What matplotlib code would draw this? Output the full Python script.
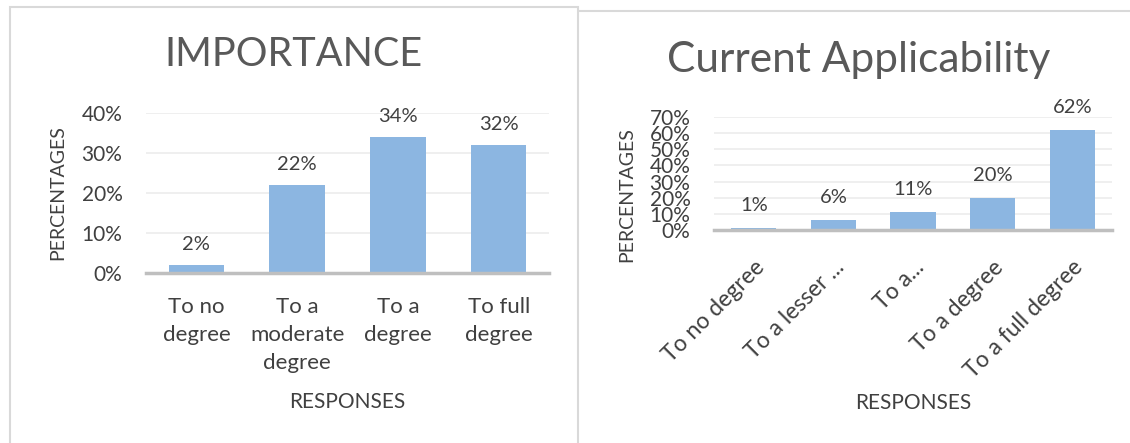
import matplotlib.pyplot as plt
from matplotlib.patches import Rectangle
from matplotlib.lines import Line2D
from matplotlib.ticker import PercentFormatter

plt.rcParams['font.family'] = ['Lato', 'DejaVu Sans']

# Importance chart data
imp_labels = ['To no\ndegree', 'To a\nmoderate\ndegree', 'To a\ndegree', 'To full\ndegree']
imp_values = [2, 22, 34, 32]
imp_ticks = [0, 10, 20, 30, 40]

# Current applicability chart data
app_labels = ['To no degree', 'To a lesser ...', 'To a...', 'To a degree', 'To a full degree']
app_values = [1, 6, 11, 20, 62]
app_ticks = [0, 10, 20, 30, 40, 50, 60, 70]

BAR = '#8cb6e1'
TXT = '#404040'
GRID = '#ececec'
AXIS = '#bfbfbf'

fig = plt.figure(figsize=(11.3, 4.43), dpi=100)

# frame around left chart, line above the right one
fig.patches.append(Rectangle((10 / 1130, -0.05), 568 / 1130, 1.05 - 7 / 443,
                             transform=fig.transFigure, fill=False,
                             edgecolor='#d9d9d9', linewidth=1.5))
fig.lines.append(Line2D([580 / 1130, 1], [1 - 11 / 443, 1 - 11 / 443],
                        transform=fig.transFigure, color='#d9d9d9', linewidth=1.5))


def style_axes(ax, ticks):
    ax.set_yticks(ticks)
    ax.set_ylim(ticks[0], ticks[-1])
    ax.yaxis.set_major_formatter(PercentFormatter(decimals=0))
    ax.grid(axis='y', color=GRID, linewidth=1.2)
    ax.set_axisbelow(True)
    for s in ['top', 'right', 'left']:
        ax.spines[s].set_visible(False)
    ax.spines['bottom'].set_color(AXIS)
    ax.spines['bottom'].set_linewidth(2.5)
    ax.tick_params(length=0, labelsize=16, labelcolor=TXT)
    ax.tick_params(axis='y', pad=17, labelsize=15)


# left: IMPORTANCE
ax1 = fig.add_axes([146 / 1130, 1 - 273 / 443, 403 / 1130, 160 / 443])
x1 = range(len(imp_values))
bars1 = ax1.bar(x1, imp_values, width=0.55, color=BAR)
ax1.set_xlim(-0.5, len(imp_values) - 0.5)
style_axes(ax1, imp_ticks)
ax1.set_xticks(list(x1))
ax1.set_xticklabels(imp_labels, linespacing=1.5)
ax1.tick_params(axis='x', pad=17)
ax1.bar_label(bars1, labels=[f'{v}%' for v in imp_values], padding=9,
              fontsize=14.5, color=TXT)

fig.text(293 / 1130, 1 - 55 / 443, 'IMPORTANCE', ha='center', va='center',
         fontsize=28.5, color='#595959')
fig.text(58 / 1130, 1 - 193 / 443, 'PERCENTAGES', ha='center', va='center',
         rotation=90, fontsize=14, color=TXT)
fig.text(347 / 1130, 1 - 402 / 443, 'RESPONSES', ha='center', va='center',
         fontsize=15, color=TXT)

# right: Current Applicability
ax2 = fig.add_axes([714 / 1130, 1 - 230 / 443, 398 / 1130, 113 / 443])
x2 = range(len(app_values))
bars2 = ax2.bar(x2, app_values, width=0.57, color=BAR)
ax2.set_xlim(-0.5, len(app_values) - 0.5)
style_axes(ax2, app_ticks)
ax2.set_xticks(list(x2))
ax2.set_xticklabels(app_labels, rotation=45, ha='right', rotation_mode='anchor',
                    fontsize=16.5)
ax2.tick_params(axis='x', pad=19)
ax2.bar_label(bars2, labels=[f'{v}%' for v in app_values], padding=10,
              fontsize=14.5, color=TXT)

fig.text(859 / 1130, 1 - 60 / 443, 'Current Applicability', ha='center', va='center',
         fontsize=30.5, color='#595959')
fig.text(627 / 1130, 1 - 195 / 443, 'PERCENTAGES', ha='center', va='center',
         rotation=90, fontsize=14, color=TXT)
fig.text(913 / 1130, 1 - 403 / 443, 'RESPONSES', ha='center', va='center',
         fontsize=15, color=TXT)

fig.savefig('out.png', dpi=100)
